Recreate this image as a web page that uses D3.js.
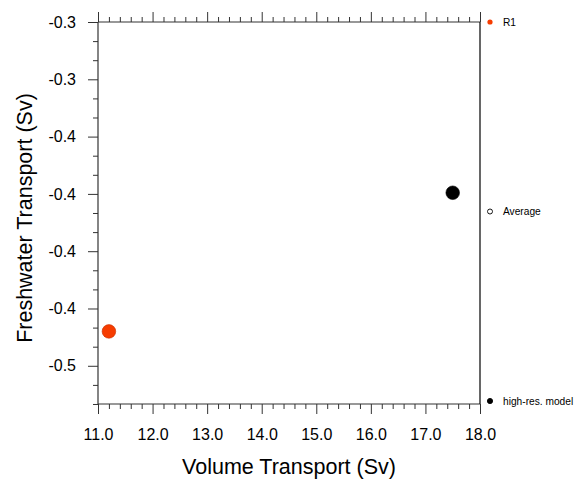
<!DOCTYPE html>
<html><head><meta charset="utf-8">
<script src="https://cdn.jsdelivr.net/npm/d3@7"></script>
<style>
html,body{margin:0;padding:0;background:#fff;}
text{font-family:"Liberation Sans",Arial,Helvetica,sans-serif;}
</style></head>
<body><svg id="chart" width="587" height="486"></svg>
<script>
// ---- data ----
const seriesNames = ["R1", "high-res. model"];
const volumeTransport = [11.2, 17.5];
const freshwaterTransport = [-0.435, -0.3745];
const seriesColors = ["#f63c00", "#000000"];
const legendLabels = ["R1", "Average", "high-res. model"];
const legendFill = ["#f63c00", "#ffffff", "#000000"];
const xTickValues = [11, 12, 13, 14, 15, 16, 17, 18];
const xTickLabels = ["11.0", "12.0", "13.0", "14.0", "15.0", "16.0", "17.0", "18.0"];
const yTickValues = [-0.300, -0.325, -0.350, -0.375, -0.400, -0.425, -0.450];
const yTickLabels = ["-0.3", "-0.3", "-0.4", "-0.4", "-0.4", "-0.4", "-0.5"];
const xDomain = [11, 18];
const yDomain = [-0.46667, -0.3];

// ---- layout ----
const svg = d3.select("#chart");
const L = 98, R = 480, T = 22, B = 404;
const x = d3.scaleLinear().domain(xDomain).range([L, R]);
const y = d3.scaleLinear().domain(yDomain).range([B, T]);

const xMinor = d3.range(0, 36).map(i => 11 + i * 0.2).filter(v => Math.abs(v - Math.round(v)) > 1e-6);
const yMinor = d3.range(0, 21).map(i => -0.3 - i * 0.025 / 3).filter(v => v >= yDomain[0] - 1e-6)
  .filter(v => !yTickValues.some(t => Math.abs(t - v) < 1e-6));

const axisColor = "#333";
function styleAxis(g) {
  g.select(".domain").remove();
  g.selectAll(".tick line").attr("stroke", axisColor).attr("stroke-width", 1);
}

// bottom major
svg.append("g").attr("transform", `translate(0,${B})`)
  .call(d3.axisBottom(x).tickValues(xTickValues).tickSize(10).tickSizeOuter(0)
    .tickPadding(15).tickFormat((d, i) => xTickLabels[i]))
  .call(styleAxis)
  .call(g => g.selectAll("text").attr("font-size", 16).attr("fill", "#000")
    .attr("font-family", "Liberation Sans, Arial, sans-serif"));
// bottom minor
svg.append("g").attr("transform", `translate(0,${B})`)
  .call(d3.axisBottom(x).tickValues(xMinor).tickSize(5).tickSizeOuter(0).tickFormat(""))
  .call(styleAxis);
// top major/minor (outward, no labels)
svg.append("g").attr("transform", `translate(0,${T})`)
  .call(d3.axisTop(x).tickValues(xTickValues).tickSize(10).tickSizeOuter(0).tickFormat(""))
  .call(styleAxis);
svg.append("g").attr("transform", `translate(0,${T})`)
  .call(d3.axisTop(x).tickValues(xMinor).tickSize(5).tickSizeOuter(0).tickFormat(""))
  .call(styleAxis);
// left major
svg.append("g").attr("transform", `translate(${L},0)`)
  .call(d3.axisLeft(y).tickValues(yTickValues).tickSize(10).tickSizeOuter(0)
    .tickPadding(12).tickFormat((d, i) => yTickLabels[i]))
  .call(styleAxis)
  .call(g => g.selectAll("text").attr("font-size", 16).attr("fill", "#000")
    .attr("font-family", "Liberation Sans, Arial, sans-serif"));
// left minor
svg.append("g").attr("transform", `translate(${L},0)`)
  .call(d3.axisLeft(y).tickValues(yMinor).tickSize(5).tickSizeOuter(0).tickFormat(""))
  .call(styleAxis);

// frame
svg.append("line").attr("x1", L).attr("x2", R).attr("y1", T).attr("y2", T).attr("stroke", axisColor).attr("stroke-width", 1.2);
svg.append("line").attr("x1", L).attr("x2", R).attr("y1", B).attr("y2", B).attr("stroke", axisColor).attr("stroke-width", 1.2);
svg.append("line").attr("x1", L).attr("x2", L).attr("y1", T).attr("y2", B).attr("stroke", axisColor).attr("stroke-width", 1.2);
svg.append("line").attr("x1", R).attr("x2", R).attr("y1", T).attr("y2", B).attr("stroke", "#000").attr("stroke-width", 1.2);

// points
svg.append("g").selectAll("circle").data(seriesNames).join("circle")
  .attr("cx", (d, i) => x(volumeTransport[i]))
  .attr("cy", (d, i) => y(freshwaterTransport[i]))
  .attr("r", 6.8)
  .attr("fill", (d, i) => seriesColors[i])
  .attr("stroke", (d, i) => i === 0 ? "#c83000" : "#000")
  .attr("stroke-width", 0.6);

// legend
const ly = d3.scalePoint().domain(legendLabels).range([T, B - 3]);
const lg = svg.append("g");
lg.selectAll("circle").data(legendLabels).join("circle")
  .attr("cx", 490).attr("cy", d => ly(d))
  .attr("r", (d, i) => i === 1 ? 2.5 : 2.6)
  .attr("fill", (d, i) => legendFill[i])
  .attr("stroke", (d, i) => i === 0 ? "none" : "#000")
  .attr("stroke-width", 0.9);
lg.selectAll("text").data(legendLabels).join("text")
  .attr("x", 503).attr("y", d => ly(d)).attr("dy", "0.35em")
  .attr("font-size", 10.2).attr("fill", "#000").text(d => d);

// axis titles
svg.append("text").attr("x", (L + R) / 2).attr("y", 474).attr("text-anchor", "middle")
  .attr("font-size", 21.5).attr("fill", "#000").text("Volume Transport (Sv)");
svg.append("text").attr("transform", `translate(32,${(T + B) / 2 + 5}) rotate(-90)`)
  .attr("text-anchor", "middle").attr("font-size", 21.5).attr("fill", "#000")
  .text("Freshwater Transport (Sv)");
</script></body></html>
